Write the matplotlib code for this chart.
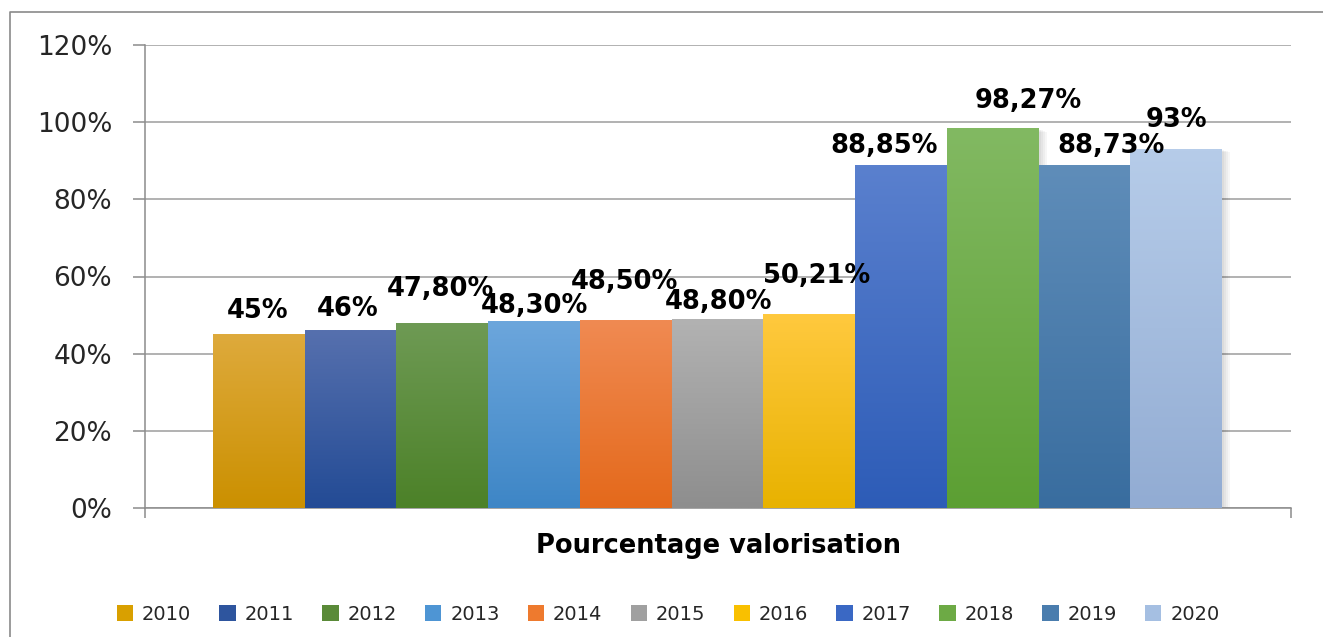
import numpy as np
import matplotlib
matplotlib.use("Agg")
import matplotlib.pyplot as plt
from matplotlib.colors import to_rgb
from matplotlib.lines import Line2D
from matplotlib.patches import Rectangle

# ---- data ----
years = ["2010", "2011", "2012", "2013", "2014", "2015", "2016", "2017", "2018", "2019", "2020"]
values = [45.0, 46.0, 47.80, 48.30, 48.50, 48.80, 50.21, 88.85, 98.27, 88.73, 93.0]
value_labels = ["45%", "46%", "47,80%", "48,30%", "48,50%", "48,80%", "50,21%",
                "88,85%", "98,27%", "88,73%", "93%"]
yticks = [0, 20, 40, 60, 80, 100, 120]
axis_title = "Pourcentage valorisation"

# ---- style ----
top_colors = ["#DEAA3C", "#5670AE", "#6E9A54", "#6CA6DC", "#F08A52", "#B2B2B2",
              "#FFC93E", "#5A80CE", "#82B962", "#5F8DB9", "#B6CCE9"]
bot_colors = ["#CB9000", "#234B95", "#4C8128", "#3E86C6", "#E4691B", "#8E8E8E",
              "#E8B200", "#2D5CB7", "#5C9F33", "#396D9F", "#92ACD3"]
mid_colors = ["#D9A000", "#2E559E", "#5A8A38", "#4E95D4", "#EE7A2E", "#A0A0A0",
              "#F9C000", "#3A68C4", "#6DAA45", "#4A7DAE", "#A5BFE2"]
# label offsets (pixels) relative to bar top centre
lab_dx = [-1, -3, -2, 0, -1, 1, 7, -17, 36, 27, 0]
lab_dy = [23, 22, 35, 16, 39, 18, 38, 19, 28, 20, 29]

W, H = 1323, 637
fig = plt.figure(figsize=(W / 100, H / 100), dpi=100)
fig.patch.set_facecolor("white")

ax_left, ax_right, ax_top, ax_bot = 145, 1291, 45, 508
ax = fig.add_axes([ax_left / W, 1 - ax_bot / H, (ax_right - ax_left) / W, (ax_bot - ax_top) / H])

x = np.arange(len(values))
xlim = (-1.241, 11.252)

# soft shadow behind bars
for i, v in enumerate(values):
    for k in range(4):
        off = 0.015 * (k + 1)
        ax.add_patch(Rectangle((x[i] - 0.5 + off * 0.5, -0.4 - k * 0.2), 1 + off, v + 0.2,
                               facecolor="black", alpha=0.035, edgecolor="none", zorder=1))

for i, v in enumerate(values):
    ax.bar(x[i], v, width=1.0, color=mid_colors[i], edgecolor="none", zorder=2, label=years[i])
    c_top = np.array(to_rgb(top_colors[i]))
    c_bot = np.array(to_rgb(bot_colors[i]))
    t = np.linspace(0, 1, 100)[:, None]
    grad = (c_top * (1 - t) + c_bot * t)[:, None, :]
    ax.imshow(grad, extent=[x[i] - 0.5, x[i] + 0.5, 0, v], aspect="auto",
              zorder=3, interpolation="bilinear", origin="upper")

for i, v in enumerate(values):
    ax.annotate(value_labels[i], xy=(x[i], v), xytext=(lab_dx[i], lab_dy[i]),
                textcoords="offset pixels", ha="center", va="center",
                fontsize=18.5, fontweight="bold", color="black", zorder=5)

ax.set_xlim(*xlim)
ax.set_ylim(0, 120)
ax.set_yticks(yticks)
ax.set_yticklabels([f"{t}%" for t in yticks], fontsize=19, color="#262626")
ax.set_xticks([xlim[0], xlim[1]])
ax.set_xticklabels(["", ""])
ax.tick_params(axis="y", direction="out", length=8.6, width=1.1, color="#8C8C8C", pad=15)
ax.tick_params(axis="x", direction="out", length=7, width=1.1, color="#8C8C8C")
ax.yaxis.grid(True, color="#9C9C9C", linewidth=1.1, zorder=0)
ax.set_axisbelow(True)
for s in ["top", "right"]:
    ax.spines[s].set_visible(False)
for s in ["left", "bottom"]:
    ax.spines[s].set_color("#8C8C8C")
    ax.spines[s].set_linewidth(1.1)
ax.set_facecolor("none")

fig.text(718 / W, 1 - 546 / H, axis_title, ha="center", va="center",
         fontsize=18.5, fontweight="bold", color="black")

handles = [Rectangle((0, 0), 1, 1, facecolor=mid_colors[i], edgecolor="none") for i in range(len(years))]
leg = fig.legend(handles, years, loc="center", bbox_to_anchor=(668 / W, 1 - 614 / H), ncol=11,
                 frameon=False, fontsize=14, handlelength=0.85, handleheight=0.85,
                 handletextpad=0.45, columnspacing=1.45, borderpad=0)
for t in leg.get_texts():
    t.set_color("#262626")

# chart border (left + top visible)
fig.add_artist(Line2D([10 / W, 10 / W, 1.0], [0.0, 1 - 12 / H, 1 - 12 / H],
                      transform=fig.transFigure, color="#8A8A8A", linewidth=1.2))

fig.savefig("out.png", dpi=100, facecolor="white")
